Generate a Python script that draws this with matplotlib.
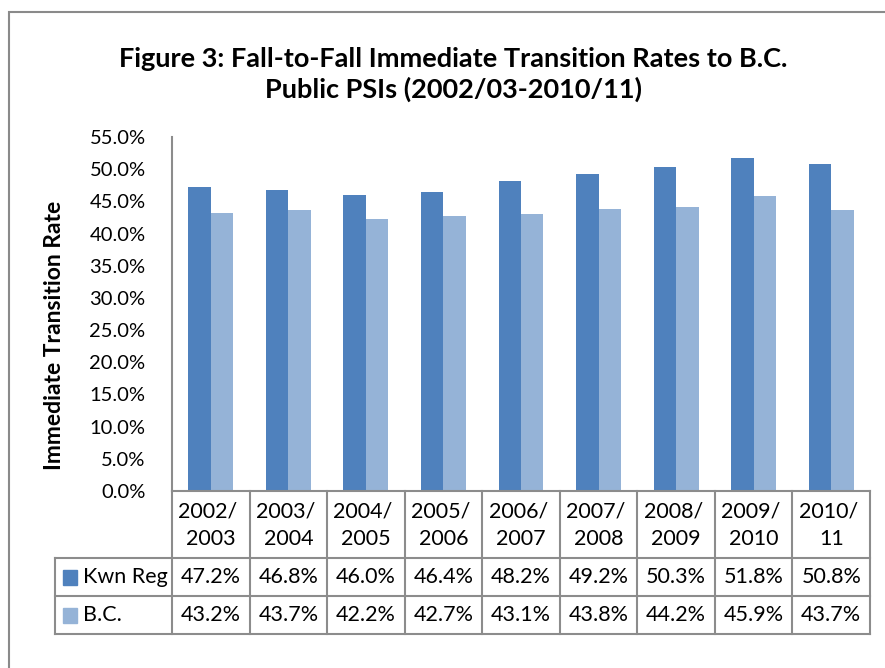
import matplotlib
matplotlib.use("Agg")
from matplotlib import pyplot as plt
from matplotlib.transforms import blended_transform_factory
from matplotlib.patches import Rectangle
from matplotlib.lines import Line2D
import numpy as np

plt.rcParams['font.family'] = ['Lato', 'DejaVu Sans']

years = ['2002/\n2003', '2003/\n2004', '2004/\n2005', '2005/\n2006', '2006/\n2007',
         '2007/\n2008', '2008/\n2009', '2009/\n2010', '2010/\n11']
kwn_reg = [47.2, 46.8, 46.0, 46.4, 48.2, 49.2, 50.3, 51.8, 50.8]
bc = [43.2, 43.7, 42.2, 42.7, 43.1, 43.8, 44.2, 45.9, 43.7]
series_names = ['Kwn Reg', 'B.C.']
colors = ['#4F81BD', '#95B3D7']
yticks = np.arange(0, 55.1, 5)

W, H = 885, 668
grid_col = '#8c8c8c'


def fx(px):
    return px / W


def fy(py):
    return 1 - py / H


fig = plt.figure(figsize=(W / 100, H / 100), dpi=100)

# outer frame
fig.add_artist(Rectangle((fx(9), -0.2), 1.5, fy(12) + 0.2, transform=fig.transFigure,
                         fill=False, edgecolor='#8a8a8a', linewidth=1.5))

ax = fig.add_axes([fx(172), fy(491), fx(870) - fx(172), fy(137) - fy(491)])

x = np.arange(len(years))
w = 0.29
ax.bar(x - w / 2, kwn_reg, w, color=colors[0])
ax.bar(x + w / 2, bc, w, color=colors[1])

ax.set_xlim(-0.5, len(years) - 0.5)
ax.set_ylim(0, 55)
ax.set_yticks(yticks)
ax.set_yticklabels(['%.1f%%' % v for v in yticks], fontsize=14.5)
ax.tick_params(axis='y', length=0, pad=19)
ax.set_xticks([])
for s in ['top', 'right', 'bottom']:
    ax.spines[s].set_visible(False)
ax.spines['left'].set_color(grid_col)
ax.spines['left'].set_linewidth(1.5)

fig.text(fx(55), (fy(200) + fy(470)) / 2, 'Immediate Transition Rate', rotation=90,
         ha='center', va='center', fontsize=16.5, fontweight='bold')

fig.text(fx(453), fy(59), 'Figure 3: Fall-to-Fall Immediate Transition Rates to B.C.',
         ha='center', va='center', fontsize=19.5, fontweight='bold')
fig.text(fx(453), fy(89), 'Public PSIs (2002/03-2010/11)',
         ha='center', va='center', fontsize=19.5, fontweight='bold')

# data table below the axis
tr = blended_transform_factory(ax.transData, fig.transFigure)
row_y = [491, 558, 596, 634]
left_col = 55


def hline(x0, x1, y):
    fig.add_artist(Line2D([fx(x0), fx(x1)], [fy(y), fy(y)], color=grid_col,
                          linewidth=1.5, transform=fig.transFigure))


def vline(xp, y0, y1):
    fig.add_artist(Line2D([fx(xp), fx(xp)], [fy(y0), fy(y1)], color=grid_col,
                          linewidth=1.5, transform=fig.transFigure))


hline(172, 870, row_y[0])
hline(left_col, 870, row_y[1])
hline(left_col, 870, row_y[2])
hline(left_col, 870, row_y[3])
vline(left_col, row_y[1], row_y[3])
vline(172, row_y[0], row_y[3])
cell = (870 - 172) / len(years)
for i in range(1, len(years) + 1):
    vline(172 + cell * i, row_y[0], row_y[3])

for i, lab in enumerate(years):
    top, bot = lab.split('\n')
    fig.text(x[i], fy(511), top + ' ', transform=tr, ha='center', va='center', fontsize=15.5)
    fig.text(x[i], fy(539), bot, transform=tr, ha='center', va='center', fontsize=15.5)

for r, vals in enumerate([kwn_reg, bc]):
    yc = (row_y[r + 1] + row_y[r + 2]) / 2
    fig.add_artist(Rectangle((fx(63), fy(yc + 7.5)), fx(14), 15 / H, color=colors[r],
                             transform=fig.transFigure))
    fig.text(fx(83), fy(yc), series_names[r], ha='left', va='center', fontsize=15.5)
    for i, v in enumerate(vals):
        fig.text(x[i], fy(yc), '%.1f%%' % v, transform=tr, ha='center', va='center',
                 fontsize=15.5)

fig.savefig('out.png', dpi=100)
